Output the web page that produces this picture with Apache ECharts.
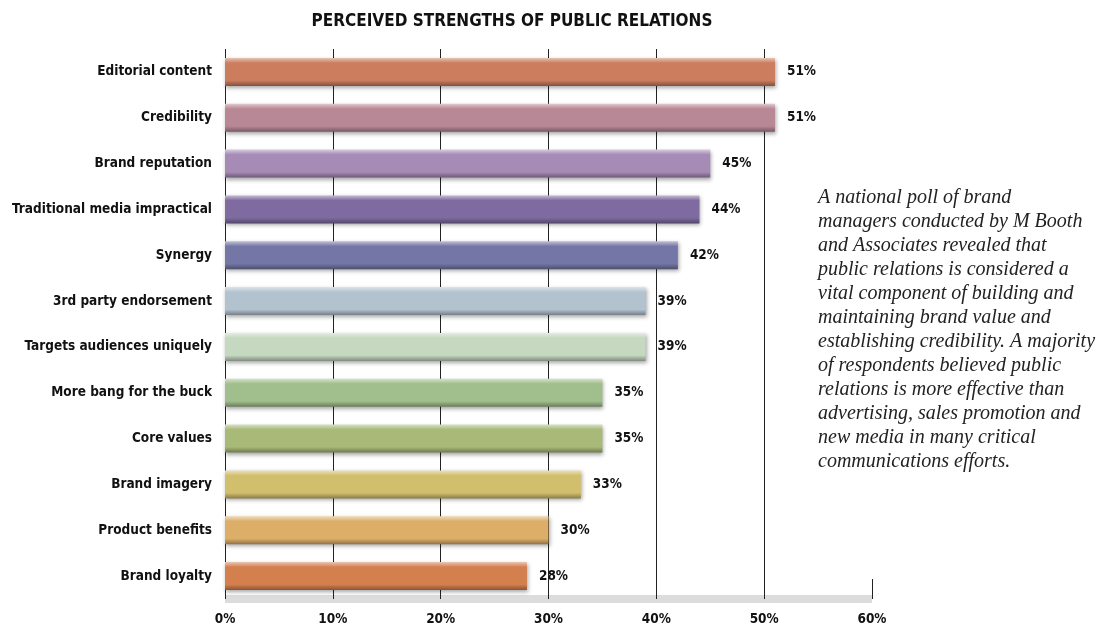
<!DOCTYPE html>
<html>
<head>
<meta charset="utf-8">
<title>Perceived strengths of public relations</title>
<script src="https://cdn.jsdelivr.net/npm/echarts@6/dist/echarts.min.js"></script>
<style>
  html, body { margin: 0; padding: 0; background: #fff; }
  #chart { width: 1110px; height: 626px; }
</style>
</head>
<body>
<div id="chart"></div>
<script>
const categories = [
  'Editorial content',
  'Credibility',
  'Brand reputation',
  'Traditional media impractical',
  'Synergy',
  '3rd party endorsement',
  'Targets audiences uniquely',
  'More bang for the buck',
  'Core values',
  'Brand imagery',
  'Product benefits',
  'Brand loyalty'
]
const values = [51, 51, 45, 44, 42, 39, 39, 35, 35, 33, 30, 28]
const tickValues = [0, 10, 20, 30, 40, 50, 60]
const noteLines = [
  'A national poll of brand',
  'managers conducted by M Booth',
  'and Associates revealed that',
  'public relations is considered a',
  'vital component of building and',
  'maintaining brand value and',
  'establishing credibility. A majority',
  'of respondents believed public',
  'relations is more effective than',
  'advertising, sales promotion and',
  'new media in many critical',
  'communications efforts.'
]

// one colour per bar, top to bottom
const palette = [
  '#cc7d5e', '#b98896', '#a68bb6', '#7f6ba0', '#7477a6', '#b3c2cf',
  '#c5d8c0', '#a1bf8c', '#a8b978', '#d2bf6e', '#dcae68', '#d47f4e'
]

const condensed = "'DejaVu Sans Condensed', 'Liberation Sans Narrow', 'Roboto Condensed', sans-serif"

function shade (hex, f) {
  const n = parseInt(hex.slice(1), 16)
  let r = (n >> 16) & 255, g = (n >> 8) & 255, b = n & 255
  if (f > 0) {
    r += (255 - r) * f; g += (255 - g) * f; b += (255 - b) * f
  } else {
    r *= 1 + f; g *= 1 + f; b *= 1 + f
  }
  return `rgb(${Math.round(r)},${Math.round(g)},${Math.round(b)})`
}

const chart = echarts.init(document.getElementById('chart'))

const option = {
  backgroundColor: '#fff',
  animation: false,
  title: {
    text: 'PERCEIVED STRENGTHS OF PUBLIC RELATIONS',
    left: 507,
    textAlign: 'center',
    top: 8,
    textStyle: {
      fontFamily: condensed,
      fontWeight: 'bold',
      fontSize: 17,
      color: '#111'
    }
  },
  grid: {
    left: 225,
    right: 238,
    top: 49,
    bottom: 27,
    containLabel: false
  },
  xAxis: {
    type: 'value',
    min: 0,
    max: 60,
    interval: 10,
    axisLine: {
      show: true,
      lineStyle: { color: '#dcdcdc', width: 8, cap: 'butt' }
    },
    axisTick: {
      show: true,
      inside: true,
      length: 20,
      lineStyle: { color: '#222', width: 1 }
    },
    splitLine: {
      show: true,
      lineStyle: {
        color: tickValues.map(v => v < 60 ? '#222' : 'rgba(0,0,0,0)'),
        width: 1
      }
    },
    axisLabel: {
      margin: 13,
      fontFamily: condensed,
      fontWeight: 'bold',
      fontSize: 13.5,
      color: '#111',
      formatter: '{value}%'
    }
  },
  yAxis: {
    type: 'category',
    inverse: true,
    data: categories,
    axisLine: { show: false },
    axisTick: { show: false },
    splitLine: { show: false },
    axisLabel: {
      margin: 13,
      fontFamily: condensed,
      fontWeight: 'bold',
      fontSize: 13.5,
      color: '#111'
    }
  },
  series: [{
    type: 'bar',
    barWidth: 28,
    data: values.map((v, i) => ({
      value: v,
      itemStyle: {
        color: new echarts.graphic.LinearGradient(0, 0, 0, 1, [
          { offset: 0, color: shade(palette[i], 0.55) },
          { offset: 0.18, color: palette[i] },
          { offset: 0.8, color: palette[i] },
          { offset: 1, color: shade(palette[i], -0.35) }
        ]),
        shadowColor: 'rgba(0,0,0,0.35)',
        shadowBlur: 4,
        shadowOffsetY: 2,
        shadowOffsetX: 1
      }
    })),
    label: {
      show: true,
      position: 'right',
      distance: 12,
      formatter: '{c}%',
      fontFamily: condensed,
      fontWeight: 'bold',
      fontSize: 13.5,
      color: '#111'
    }
  }],
  graphic: [{
    type: 'text',
    left: 818,
    top: 186,
    style: {
      text: noteLines.join('\n'),
      fontFamily: "'Liberation Serif', 'DejaVu Serif', serif",
      fontStyle: 'italic',
      fontSize: 20,
      lineHeight: 24,
      fill: '#222'
    }
  }]
}

chart.setOption(option)
</script>
</body>
</html>
